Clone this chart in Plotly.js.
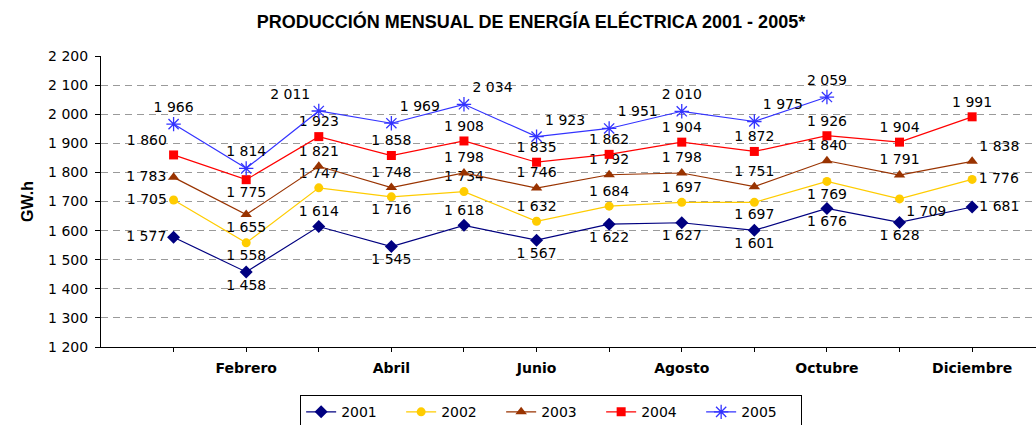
<!DOCTYPE html>
<html>
<head>
<meta charset="utf-8">
<script src="https://cdn.plot.ly/plotly-3.0.1.min.js"></script>
<style>html,body{margin:0;padding:0;background:#fff;}#chart{width:1036px;height:425px;}</style>
</head>
<body>
<div id="chart"></div>
<script>
const months = ["Enero","Febrero","Marzo","Abril","Mayo","Junio","Julio","Agosto","Septiembre","Octubre","Noviembre","Diciembre"];
const seriesNames = ["2001","2002","2003","2004","2005"];
const y2001 = [1577,1458,1614,1545,1618,1567,1622,1627,1601,1676,1628,1681];
const y2002 = [1705,1558,1747,1716,1734,1632,1684,1697,1697,1769,1709,1776];
const y2003 = [1783,1655,1821,1748,1798,1746,1792,1798,1751,1840,1791,1838];
const y2004 = [1860,1775,1923,1858,1908,1835,1862,1904,1872,1926,1904,1991];
const y2005 = [1966,1814,2011,1969,2034,1923,1951,2010,1975,2059];
const yTickVals = [1200,1300,1400,1500,1600,1700,1800,1900,2000,2100,2200];

// label placement (style only)
const tp2001 = ['middle left','bottom center','top center','bottom center','top center','bottom center','bottom center','bottom center','bottom center','bottom center','bottom center','middle right'];
const tp2002 = ['middle left','bottom center','top center','bottom center','top center','top center','top center','top center','bottom center','bottom center','bottom right','middle right'];
const tp2003 = ['middle left','bottom center','top center','top center','top center','top center','top center','top center','top center','top center','top center','top right'];
const tp2004 = ['top left','bottom center','top center','top center','top center','top center','top center','top center','top center','top center','top center','top center'];
const tp2005 = ['top center','top center','top left','top right','top right','top right','top right','top center','top right','top center'];

const styles = [
  {color:'#000080', symbol:'diamond', size:10, tp:tp2001},
  {color:'#FFCC00', symbol:'circle', size:9, tp:tp2002},
  {color:'#993300', symbol:'triangle-up', size:10, tp:tp2003},
  {color:'#FF0000', symbol:'square', size:9, tp:tp2004},
  {color:'#3333FF', symbol:'asterisk-open', size:12, tp:tp2005}
];
const allY = [y2001,y2002,y2003,y2004,y2005];

const labelFont = {family:'DejaVu Sans, Liberation Sans, Arial', size:14, color:'#000'};

const traces = allY.map((ys,i)=>({
  type:'scatter',
  mode:'lines+markers+text',
  name: seriesNames[i],
  x: months.slice(0, ys.length),
  y: ys,
  texttemplate:'%{y:,d}',
  textposition: styles[i].tp,
  textfont: labelFont,
  cliponaxis:false,
  line:{color:styles[i].color, width:1.2},
  marker:{color:styles[i].color, symbol:styles[i].symbol, size:styles[i].size,
          line:{color:styles[i].color, width: styles[i].symbol==='asterisk-open'?1.3:0}}
}));

const layout = {
  width:1036, height:425,
  separators:', ',
  paper_bgcolor:'#fff', plot_bgcolor:'#fff',
  margin:{l:101, r:0, t:56, b:78, pad:0},
  font:{family:'DejaVu Sans, Liberation Sans, Arial', size:14, color:'#000'},
  title:{text:'PRODUCCIÓN MENSUAL DE ENERGÍA ELÉCTRICA 2001 - 2005*',
         font:{family:'Liberation Sans, Arial', size:18, weight:'bold', color:'#000'},
         x:0.5125, xref:'container', xanchor:'center', y:0.948, yref:'container', yanchor:'middle'},
  xaxis:{
    type:'category',
    categoryorder:'array', categoryarray:months,
    range:[-1, 11.88],
    tickmode:'array', tickvals:months, ticktext:months.map((m,i)=> i%2===1 ? m : ''),
    ticks:'outside', ticklen:4, tickcolor:'#000', tickwidth:1,
    showline:true, linecolor:'#000', linewidth:1,
    showgrid:false, zeroline:false,
    tickfont:{family:'DejaVu Sans, Arial', size:14, weight:'bold', color:'#000'},
    ticklabelstandoff:4
  },
  yaxis:{
    range:[1200,2200],
    tickmode:'array', tickvals:yTickVals, tickformat:',d',
    ticks:'outside', ticklen:5, tickcolor:'#000', tickwidth:1,
    showline:true, linecolor:'#000', linewidth:1,
    showgrid:true, gridcolor:'#9a9a9a', gridwidth:1, griddash:'7px,5px',
    zeroline:false,
    tickfont:{family:'DejaVu Sans, Arial', size:14, color:'#000'},
    ticklabelstandoff:4,
    title:{text:'GW.h', font:{family:'Liberation Sans, Arial', size:16, weight:'bold', color:'#000'}, standoff:10}
  },
  showlegend:true,
  legend:{orientation:'h', x:0.532, xref:'container', xanchor:'center', y:0.07, yref:'container', yanchor:'top',
          bordercolor:'#000', borderwidth:1, bgcolor:'#fff',
          font:{family:'DejaVu Sans, Arial', size:14, color:'#000'},
          entrywidth:55, entrywidthmode:'pixels', traceorder:'normal'}
};

Plotly.newPlot('chart', traces, layout, {displayModeBar:false, staticPlot:true});
</script>
</body>
</html>
